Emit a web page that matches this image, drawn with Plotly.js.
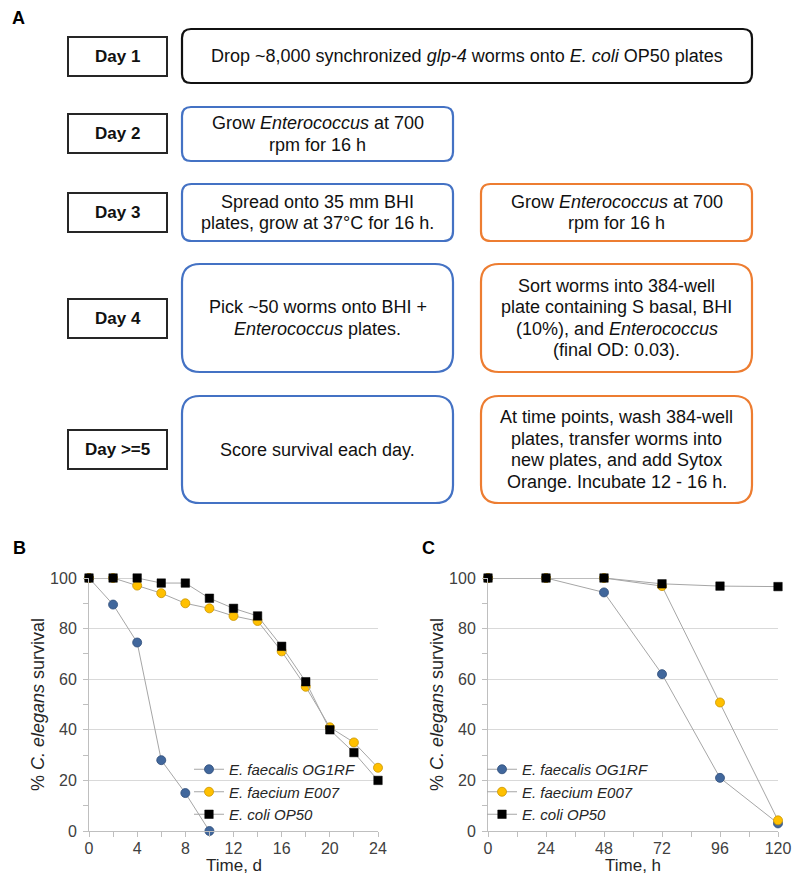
<!DOCTYPE html>
<html>
<head>
<meta charset="utf-8">
<script src="https://cdn.plot.ly/plotly-3.0.1.min.js"></script>
<style>html,body{margin:0;padding:0;background:#fff;}#chart{width:792px;height:876px;}</style>
</head>
<body>
<div id="chart"></div>
<script>
// ---------- DATA ----------
const seriesNames = ['E. faecalis OG1RF', 'E. faecium E007', 'E. coli OP50'];

const daysFaecalisB = [0, 2, 4, 6, 8, 10];
const survFaecalisB = [100, 89.5, 74.5, 28, 15, 0];
const daysB = [0, 2, 4, 6, 8, 10, 12, 14, 16, 18, 20, 22, 24];
const survFaeciumB = [100, 100, 97, 94, 90, 88, 85, 83, 71, 57, 41, 35, 25];
const survColiB = [100, 100, 100, 98, 98, 92, 88, 85, 73, 59, 40, 31, 20];

const hoursC = [0, 24, 48, 72, 96, 120];
const survFaecalisC = [100, 100, 94.3, 62, 21, 3];
const survFaeciumC = [100, 100, 100, 96.8, 50.8, 4.2];
const survColiC = [100, 100, 100, 97.7, 96.8, 96.6];

const xTitles = ['Time, d', 'Time, h'];
const yTitle = '% <i>C. elegans</i> survival';

const dayLabels = ['Day 1', 'Day 2', 'Day 3', 'Day 4', 'Day &gt;=5'];
const blackSteps = ['Drop ~8,000 synchronized <i>glp-4</i> worms onto <i>E. coli</i> OP50 plates'];
const blueSteps = [
  'Grow <i>Enterococcus</i> at 700<br>rpm for 16 h',
  'Spread onto 35 mm BHI<br>plates, grow at 37°C for 16 h.',
  'Pick ~50 worms onto BHI +<br><i>Enterococcus</i> plates.',
  'Score survival each day.'
];
const orangeSteps = [
  'Grow <i>Enterococcus</i> at 700<br>rpm for 16 h',
  'Sort worms into 384-well<br>plate containing S basal, BHI<br>(10%), and <i>Enterococcus</i><br>(final OD: 0.03).',
  'At time points, wash 384-well<br>plates, transfer worms into<br>new plates, and add Sytox<br>Orange. Incubate 12 - 16 h.'
];

// ---------- LAYOUT GEOMETRY (pixels) ----------
const W = 792, H = 876;
const px = v => v / W;
const py = v => 1 - v / H;
const labelBoxes = [[68,37,167,76],[68,114,167,153],[68,193,167,232],[68,299,167,338],[68,430,167,469]];
const blackBoxes = [[182,29,752,83]];
const blueBoxes = [[182,107,453,161],[182,184,453,241],[182,264,453,372],[182,396,453,503]];
const orangeBoxes = [[481,184,752,241],[481,264,752,372],[481,396,752,503]];
const LINE_STEP = 21.5;

const FONT = 'Arial, "Liberation Sans", Helvetica, sans-serif';
const shapes = [];
const annotations = [];

function roundRect(b, color, width) {
  const [x0, y0, x1, y1] = b;
  const r = 0.1667 * Math.min(x1 - x0, y1 - y0);
  const P = (x, y) => px(x).toFixed(5) + ',' + py(y).toFixed(5);
  const path = 'M' + P(x0 + r, y0) + ' L' + P(x1 - r, y0) + ' Q' + P(x1, y0) + ' ' + P(x1, y0 + r) +
    ' L' + P(x1, y1 - r) + ' Q' + P(x1, y1) + ' ' + P(x1 - r, y1) +
    ' L' + P(x0 + r, y1) + ' Q' + P(x0, y1) + ' ' + P(x0, y1 - r) +
    ' L' + P(x0, y0 + r) + ' Q' + P(x0, y0) + ' ' + P(x0 + r, y0) + ' Z';
  shapes.push({type: 'path', xref: 'paper', yref: 'paper', path: path,
    line: {color: color, width: width}, fillcolor: 'rgba(0,0,0,0)'});
}
function boxText(b, text, bold) {
  const lines = text.split('<br>');
  const cx = (b[0] + b[2]) / 2, cy = (b[1] + b[3]) / 2;
  lines.forEach((ln, i) => {
    const y = cy + (i - (lines.length - 1) / 2) * LINE_STEP;
    annotations.push({xref: 'paper', yref: 'paper', x: px(cx), y: py(y),
      xanchor: 'center', yanchor: 'middle', showarrow: false, align: 'center',
      text: bold ? '<b>' + ln + '</b>' : ln,
      font: {family: FONT, size: bold ? 17 : 18, color: '#111'}});
  });
}
labelBoxes.forEach((b, i) => {
  shapes.push({type: 'rect', xref: 'paper', yref: 'paper', x0: px(b[0]), x1: px(b[2]), y0: py(b[3]), y1: py(b[1]),
    line: {color: '#262626', width: 2}, fillcolor: 'rgba(0,0,0,0)'});
  boxText(b, dayLabels[i], true);
});
blackBoxes.forEach((b, i) => { roundRect(b, '#111111', 2.2); boxText(b, blackSteps[i]); });
blueBoxes.forEach((b, i) => { roundRect(b, '#4472C4', 2.2); boxText(b, blueSteps[i]); });
orangeBoxes.forEach((b, i) => { roundRect(b, '#ED7D31', 2.2); boxText(b, orangeSteps[i]); });

// panel letters
[['A', 18, 18], ['B', 19, 548], ['C', 429, 548]].forEach(([t, x, y]) => {
  annotations.push({xref: 'paper', yref: 'paper', x: px(x), y: py(y), xanchor: 'center', yanchor: 'middle',
    showarrow: false, text: '<b>' + t + '</b>', font: {family: FONT, size: 18, color: '#000'}});
});

// x-axis titles (placed under each panel's tick labels)
[[xTitles[0], 'x'], [xTitles[1], 'x2']].forEach(([t, xa]) => {
  annotations.push({xref: xa + ' domain', yref: 'paper', x: 0.5, y: py(876), xanchor: 'center', yanchor: 'bottom',
    borderpad: 0, showarrow: false, text: t, font: {family: FONT, size: 17, color: '#262626'}});
});

// white patches hiding gridlines behind the legends (between grid and traces)
[[207, 758, 353, 820], [500, 758, 642, 820]].forEach(b => {
  shapes.push({type: 'rect', xref: 'paper', yref: 'paper', layer: 'between',
    x0: px(b[0]), x1: px(b[2]), y0: py(b[3]), y1: py(b[1]),
    line: {width: 0}, fillcolor: '#FFFFFF'});
});

// ---------- TRACES ----------
const LINE = {color: '#A6A6A6', width: 1};
const styles = [
  {symbol: 'circle', size: 9, color: '#41679C', line: {color: '#2E4D78', width: 0.8}},
  {symbol: 'circle', size: 9, color: '#FFC000', line: {color: '#C99400', width: 0.8}},
  {symbol: 'square', size: 8.5, color: '#000000', line: {color: '#000000', width: 0.5}}
];
function tr(x, y, i, xa, ya, leg) {
  return {type: 'scatter', mode: 'lines+markers', x: x, y: y, xaxis: xa, yaxis: ya,
    name: '<i>' + seriesNames[i] + '</i>', legend: leg, line: LINE, marker: styles[i], cliponaxis: false};
}
const data = [
  tr(daysFaecalisB, survFaecalisB, 0, 'x', 'y', 'legend'),
  tr(daysB, survFaeciumB, 1, 'x', 'y', 'legend'),
  tr(daysB, survColiB, 2, 'x', 'y', 'legend'),
  tr(hoursC, survFaecalisC, 0, 'x2', 'y2', 'legend2'),
  tr(hoursC, survFaeciumC, 1, 'x2', 'y2', 'legend2'),
  tr(hoursC, survColiC, 2, 'x2', 'y2', 'legend2')
];

const tickFont = {family: FONT, size: 16, color: '#404040'};
function xAxis(domain, range, dtick, minor, anchor) {
  return {domain: domain, range: range, dtick: dtick, tick0: 0, anchor: anchor,
    showline: true, linecolor: '#BFBFBF', linewidth: 1, ticks: 'outside', ticklen: 5, tickcolor: '#BFBFBF',
    minor: {dtick: minor, ticks: 'outside', ticklen: 5, tickcolor: '#BFBFBF', showgrid: false},
    showgrid: false, zeroline: false, tickfont: tickFont, fixedrange: true, ticklabeloverflow: 'allow',
    ticklabelstandoff: -2};
}
function yAxis(anchor) {
  return {domain: [1 - 831 / H, 1 - 578 / H], range: [0, 100], dtick: 20, tick0: 0, anchor: anchor,
    showline: true, linecolor: '#BFBFBF', linewidth: 1, ticks: 'outside', ticklen: 5, tickcolor: '#BFBFBF',
    minor: {dtick: 10, ticks: 'outside', ticklen: 5, tickcolor: '#BFBFBF', showgrid: false},
    showgrid: true, gridcolor: '#D9D9D9', gridwidth: 1, zeroline: false, tickfont: tickFont,
    ticklabelstandoff: 3, fixedrange: true,
    title: {text: yTitle, font: {family: FONT, size: 18, color: '#262626'}, standoff: 0}};
}

const legendBase = {bgcolor: 'rgba(0,0,0,0)', borderwidth: 0, xanchor: 'left', yanchor: 'top',
  font: {family: FONT, size: 15, color: '#262626'}, tracegroupgap: 0, itemwidth: 30};

const layout = {
  width: W, height: H, margin: {l: 0, r: 0, t: 0, b: 0}, autosize: false,
  paper_bgcolor: '#FFFFFF', plot_bgcolor: 'rgba(0,0,0,0)',
  font: {family: FONT},
  xaxis: xAxis([89 / W, 378 / W], [0, 24], 4, 2, 'y'),
  yaxis: yAxis('x'),
  xaxis2: xAxis([488 / W, 778 / W], [0, 120], 24, 12, 'y2'),
  yaxis2: yAxis('x2'),
  legend: Object.assign({}, legendBase, {x: px(189), y: py(753)}),
  legend2: Object.assign({}, legendBase, {x: px(482), y: py(753)}),
  shapes: shapes,
  annotations: annotations
};

Plotly.newPlot('chart', data, layout, {displayModeBar: false, staticPlot: true});
</script>
</body>
</html>
